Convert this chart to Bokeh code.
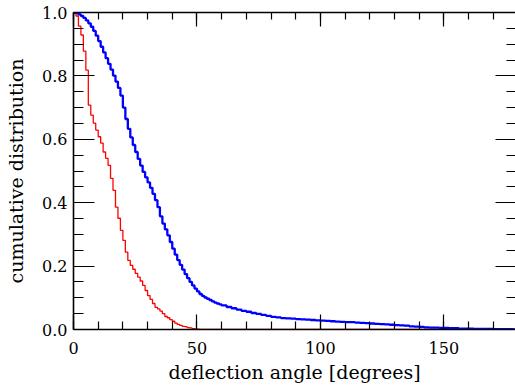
from bokeh.plotting import figure
from bokeh.models import (LinearAxis, SingleIntervalTicker, Range1d,
                          NumeralTickFormatter)
from bokeh.embed import file_html
from bokeh.resources import INLINE

# ---- data ----
red_deg = list(range(0, 52)) + [180]
red_cdf = [1.000, 0.989, 0.957, 0.929, 0.878, 0.818, 0.708, 0.676, 0.651, 0.629,
           0.608, 0.588, 0.560, 0.540, 0.518, 0.477, 0.439, 0.386, 0.351, 0.313,
           0.281, 0.244, 0.218, 0.202, 0.190, 0.177, 0.165, 0.153, 0.139, 0.123,
           0.107, 0.095, 0.082, 0.070, 0.065, 0.058, 0.050, 0.041, 0.037, 0.031,
           0.026, 0.020, 0.016, 0.013, 0.010, 0.009, 0.006, 0.005, 0.003, 0.002,
           0.001, 0.000, 0.000]

blue_deg = list(range(0, 61)) + list(range(62, 181, 2))
blue_cdf = [1.000, 0.998, 0.994, 0.989, 0.983, 0.975, 0.966, 0.955, 0.942, 0.927,
            0.910, 0.892, 0.874, 0.856, 0.838, 0.820, 0.801, 0.782, 0.762, 0.738,
            0.700, 0.664, 0.633, 0.606, 0.582, 0.560, 0.538, 0.517, 0.497, 0.480,
            0.464, 0.447, 0.428, 0.408, 0.386, 0.357, 0.334, 0.316, 0.297, 0.276,
            0.255, 0.236, 0.219, 0.204, 0.189, 0.175, 0.162, 0.150, 0.139, 0.129,
            0.120, 0.112, 0.106, 0.101, 0.097, 0.093, 0.089, 0.085, 0.082, 0.079,
            0.076,
            0.071, 0.067, 0.063, 0.059, 0.056, 0.052, 0.049, 0.046, 0.043, 0.040,
            0.038, 0.036, 0.035, 0.034, 0.033, 0.032, 0.031, 0.030, 0.029, 0.028,
            0.027, 0.026, 0.025, 0.024, 0.023, 0.023, 0.022, 0.021, 0.020, 0.019,
            0.018, 0.017, 0.016, 0.015, 0.014, 0.013, 0.012, 0.010, 0.009, 0.008,
            0.007, 0.006, 0.006, 0.005, 0.005, 0.004, 0.004, 0.003, 0.003, 0.003,
            0.002, 0.002, 0.002, 0.002, 0.001, 0.001, 0.001, 0.001, 0.000, 0.000]

x_label = "deflection angle [degrees]"
y_label = "cumulative distribution"

FONT = "DejaVu Serif"

p = figure(width=515, height=388, output_backend="svg", toolbar_location=None,
           x_range=Range1d(0, 179), y_range=Range1d(0, 1.0),
           x_axis_location=None, y_axis_location=None,
           min_border_left=73, min_border_right=0, min_border_top=12,
           min_border_bottom=59)
p.outline_line_color = None
p.xgrid.visible = False
p.ygrid.visible = False
p.background_fill_color = "white"

p.step(red_deg, red_cdf, mode="after", line_color="#ff0000", line_width=1.3)
p.step(blue_deg, blue_cdf, mode="after", line_color="#0000ff", line_width=2.3)


def style(ax, major, minor, labels=True):
    ax.axis_line_color = "black"
    ax.axis_line_width = 1.6
    ax.major_tick_line_color = "black"
    ax.minor_tick_line_color = "black"
    ax.major_tick_line_width = 1.2
    ax.minor_tick_line_width = 1.2
    ax.major_tick_in = major
    ax.major_tick_out = 0
    ax.minor_tick_in = minor
    ax.minor_tick_out = 0
    if labels:
        ax.major_label_text_font = FONT
        ax.major_label_text_font_size = "16px"
        ax.major_label_text_color = "black"
        ax.axis_label_text_font = FONT
        ax.axis_label_text_font_size = "19px"
        ax.axis_label_text_font_style = "normal"
        ax.axis_label_text_color = "black"
    else:
        ax.major_label_text_font_size = "0px"
        ax.major_label_standoff = 0
        ax.axis_label_standoff = 0


xb = LinearAxis(ticker=SingleIntervalTicker(interval=50, num_minor_ticks=5),
                formatter=NumeralTickFormatter(format="0"),
                axis_label=x_label)
style(xb, 15, 8)
xb.major_label_standoff = 12
xb.axis_label_standoff = 4
p.add_layout(xb, "below")

xt = LinearAxis(ticker=SingleIntervalTicker(interval=50, num_minor_ticks=5))
style(xt, 14, 7, labels=False)
p.add_layout(xt, "above")

yl = LinearAxis(ticker=SingleIntervalTicker(interval=0.2, num_minor_ticks=4),
                formatter=NumeralTickFormatter(format="0.0"),
                axis_label=y_label)
style(yl, 21, 10)
yl.major_label_standoff = 6
yl.axis_label_standoff = 12
p.add_layout(yl, "left")

yr = LinearAxis(ticker=SingleIntervalTicker(interval=0.2, num_minor_ticks=4))
style(yr, 20, 9, labels=False)
yr.axis_line_color = None
p.add_layout(yr, "right")

open("out.html", "w").write(file_html(p, INLINE))
